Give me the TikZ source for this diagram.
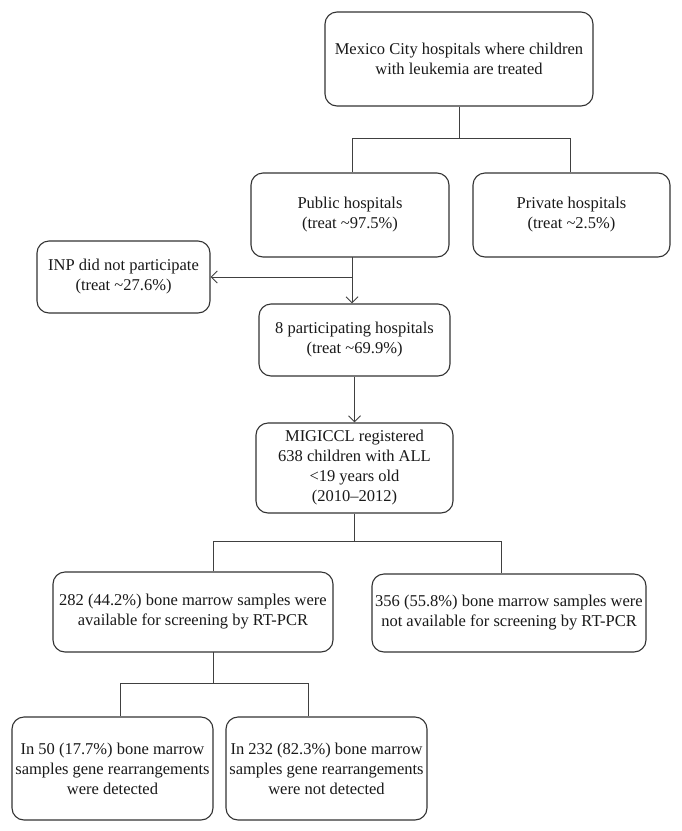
\documentclass[tikz,border=0pt]{standalone}
\usepackage{fontspec}
\setmainfont{Liberation Serif}
\usetikzlibrary{arrows.meta}
\begin{document}
\begin{tikzpicture}[x=1pt,y=-1pt,
  box/.style={draw=black!80, line width=1.1pt, rounded corners=12pt, align=center,
    inner sep=2pt, font=\fontsize{16.5}{20}\selectfont, text=black!90},
  link/.style={draw=black!75, line width=1pt},
  arr/.style={link, -{Straight Barb[length=6pt,width=12pt,line width=1pt]}}]
\useasboundingbox (0,0) rectangle (681,831);
\fill[white] (0,0) rectangle (681,831);

\node[box, minimum width=268pt, minimum height=94pt] (top) at (459,59)
  {Mexico City hospitals where children\\with leukemia are treated};
\node[box, minimum width=198pt, minimum height=84pt] (public) at (350,215)
  {Public hospitals\\(treat \textasciitilde97.5\%)};
\node[box, minimum width=197pt, minimum height=84pt] (private) at (571.5,215)
  {Private hospitals\\(treat \textasciitilde2.5\%)};
\node[box, minimum width=173pt, minimum height=72pt] (inp) at (123.5,277)
  {INP did not participate\\(treat \textasciitilde27.6\%)};
\node[box, minimum width=191pt, minimum height=72pt] (part) at (354.5,340)
  {8 participating hospitals\\(treat \textasciitilde69.9\%)};
\node[box, minimum width=197pt, minimum height=90pt] (mig) at (354.5,468)
  {MIGICCL registered\\638 children with ALL\\<19 years old\\(2010--2012)};
\node[box, minimum width=280pt, minimum height=80pt] (b282) at (193,612)
  {282 (44.2\%) bone marrow samples were\\available for screening by RT-PCR};
\node[box, minimum width=274pt, minimum height=78pt] (b356) at (509,613)
  {356 (55.8\%) bone marrow samples were\\not available for screening by RT-PCR};
\node[box, minimum width=201pt, minimum height=103pt] (det) at (112.5,768.5)
  {In 50 (17.7\%) bone marrow\\samples gene rearrangements\\were detected};
\node[box, minimum width=201pt, minimum height=103pt] (ndet) at (326.5,768.5)
  {In 232 (82.3\%) bone marrow\\samples gene rearrangements\\were not detected};

% top split
\coordinate (j1) at (459,138);
\coordinate (j1l) at (352,138);
\coordinate (j1r) at (570,138);
\draw[link] (top.south) -- (j1);
\draw[link] (j1l |- public.north) -- (j1l) -- (j1r) -- (j1r |- private.north);

% public to participating and INP
\coordinate (pb) at (352,257);
\coordinate (br) at (352,277);
\draw[arr] (pb) -- (pb |- part.north);
\draw[arr] (br) -- (br -| inp.east);

% participating to MIGICCL
\draw[arr] (part.south) -- (mig.north);

% MIGICCL split
\coordinate (j2) at (354.5,541);
\coordinate (j2l) at (213,541);
\coordinate (j2r) at (501,541);
\draw[link] (mig.south) -- (j2);
\draw[link] (j2l |- b282.north) -- (j2l) -- (j2r) -- (j2r |- b356.north);

% 282 split
\coordinate (j3t) at (213,652);
\coordinate (j3) at (213,683);
\coordinate (j3l) at (120,683);
\coordinate (j3r) at (308,683);
\draw[link] (j3t) -- (j3);
\draw[link] (j3l |- det.north) -- (j3l) -- (j3r) -- (j3r |- ndet.north);
\end{tikzpicture}
\end{document}
